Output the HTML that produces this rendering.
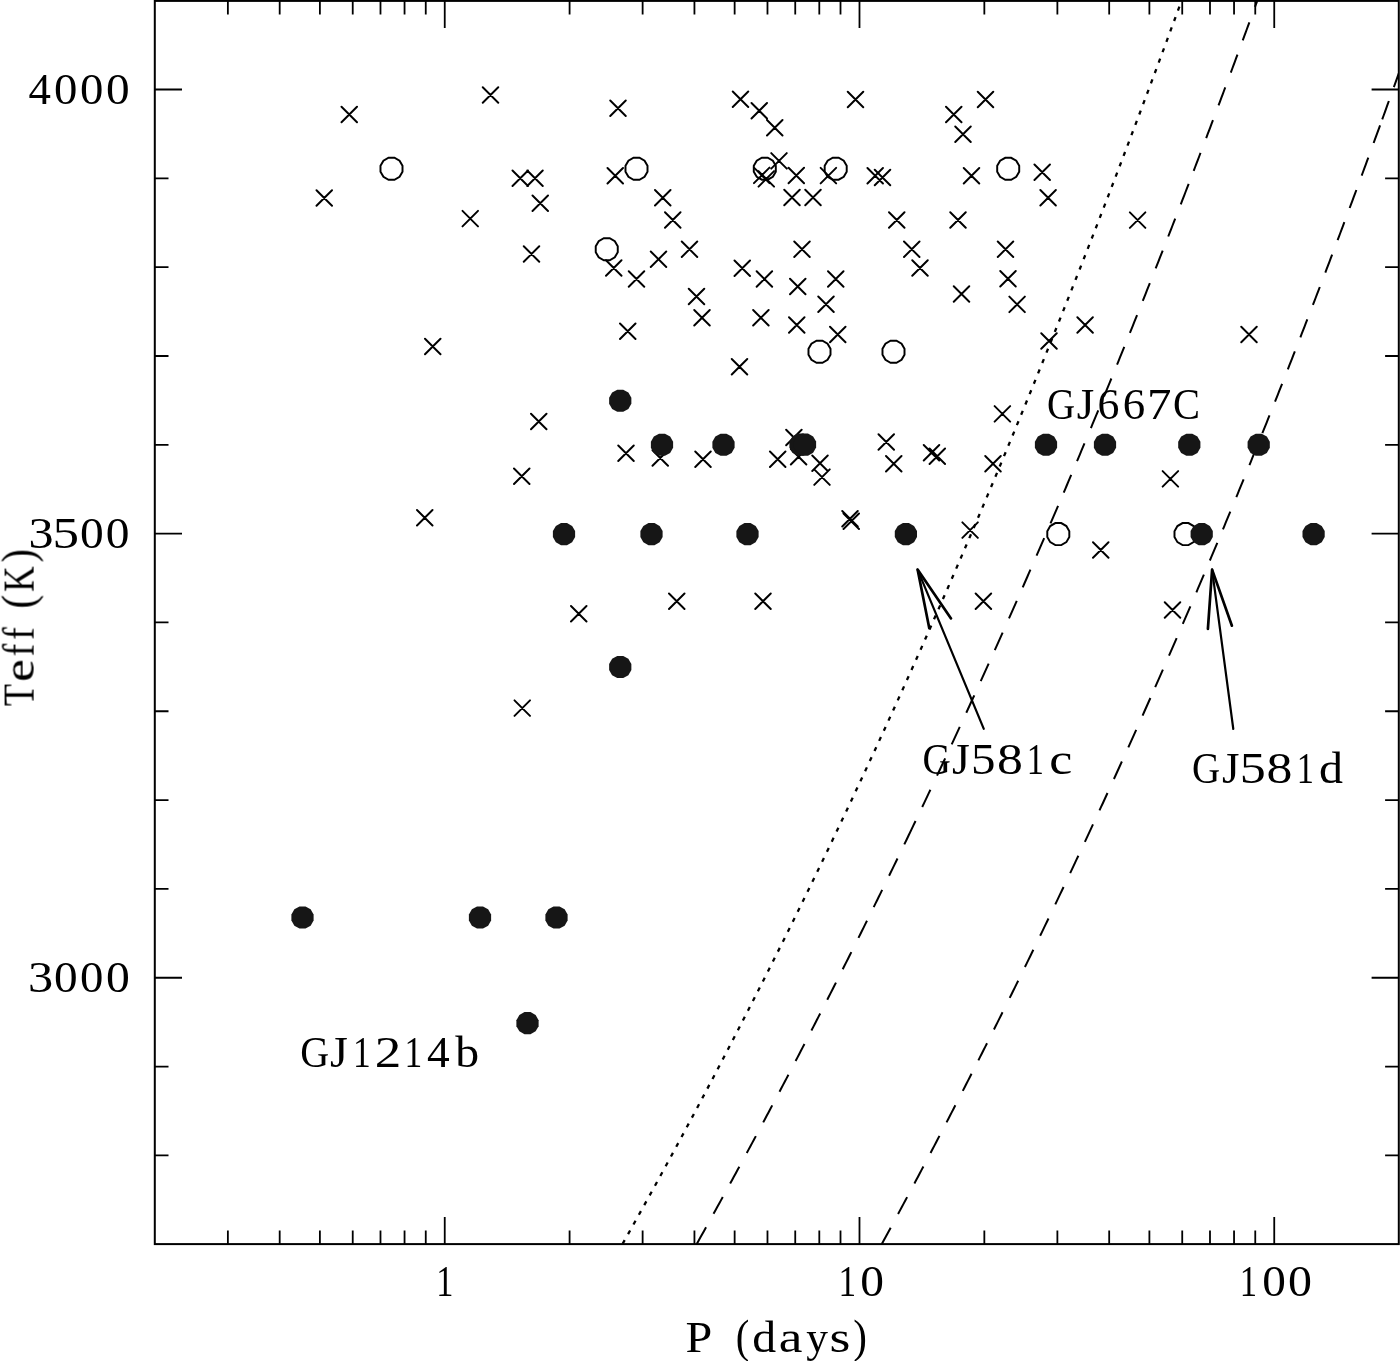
<!DOCTYPE html><html><head><meta charset="utf-8"><style>html,body{margin:0;padding:0;background:#fff;}svg{display:block;}</style></head><body>
<svg width="1400" height="1361" viewBox="0 0 1400 1361">
<rect x="0" y="0" width="1400" height="1361" fill="#fff"/>
<path d="M154.8 1155.40h13.7M1398.8 1155.40h-13.7M154.8 1066.57h13.7M1398.8 1066.57h-13.7M154.8 977.75h27.2M1398.8 977.75h-27.2M154.8 888.92h13.7M1398.8 888.92h-13.7M154.8 800.10h13.7M1398.8 800.10h-13.7M154.8 711.27h13.7M1398.8 711.27h-13.7M154.8 622.45h13.7M1398.8 622.45h-13.7M154.8 533.62h27.2M1398.8 533.62h-27.2M154.8 444.80h13.7M1398.8 444.80h-13.7M154.8 355.98h13.7M1398.8 355.98h-13.7M154.8 267.15h13.7M1398.8 267.15h-13.7M154.8 178.32h13.7M1398.8 178.32h-13.7M154.8 89.50h27.2M1398.8 89.50h-27.2M227.88 1244.1v-13.7M227.88 0.9v13.7M279.69 1244.1v-13.7M279.69 0.9v13.7M319.89 1244.1v-13.7M319.89 0.9v13.7M352.73 1244.1v-13.7M352.73 0.9v13.7M380.49 1244.1v-13.7M380.49 0.9v13.7M404.55 1244.1v-13.7M404.55 0.9v13.7M425.76 1244.1v-13.7M425.76 0.9v13.7M444.74 1244.1v-27.2M444.74 0.9v27.2M569.59 1244.1v-13.7M569.59 0.9v13.7M642.63 1244.1v-13.7M642.63 0.9v13.7M694.44 1244.1v-13.7M694.44 0.9v13.7M734.64 1244.1v-13.7M734.64 0.9v13.7M767.48 1244.1v-13.7M767.48 0.9v13.7M795.24 1244.1v-13.7M795.24 0.9v13.7M819.30 1244.1v-13.7M819.30 0.9v13.7M840.51 1244.1v-13.7M840.51 0.9v13.7M859.49 1244.1v-27.2M859.49 0.9v27.2M984.34 1244.1v-13.7M984.34 0.9v13.7M1057.38 1244.1v-13.7M1057.38 0.9v13.7M1109.19 1244.1v-13.7M1109.19 0.9v13.7M1149.39 1244.1v-13.7M1149.39 0.9v13.7M1182.23 1244.1v-13.7M1182.23 0.9v13.7M1209.99 1244.1v-13.7M1209.99 0.9v13.7M1234.05 1244.1v-13.7M1234.05 0.9v13.7M1255.26 1244.1v-13.7M1255.26 0.9v13.7M1274.24 1244.1v-27.2M1274.24 0.9v27.2" stroke="#000" stroke-width="1.8" fill="none"/>
<clipPath id="cp"><rect x="154.8" y="0.9" width="1244.0" height="1243.2"/></clipPath>
<g clip-path="url(#cp)" fill="none" stroke="#000">
<path d="M1179.38 6.63L1177.93 10.57M1175.55 17.05L1174.10 20.99M1171.71 27.46L1170.26 31.40M1167.86 37.87L1166.41 41.81M1164.01 48.28L1162.55 52.21M1160.15 58.68L1158.68 62.62M1156.28 69.08L1154.81 73.02M1152.41 79.45L1150.94 83.39M1148.53 89.82L1147.05 93.76M1144.64 100.19L1143.16 104.12M1140.74 110.55L1139.26 114.48M1136.84 120.91L1135.35 124.84M1132.92 131.27L1131.44 135.19M1129.00 141.62L1127.51 145.54M1125.07 151.97L1123.57 155.89M1121.12 162.31L1119.62 166.23M1117.17 172.65L1115.67 176.57M1113.21 182.99L1111.70 186.91M1109.24 193.32L1107.73 197.24M1105.25 203.65L1103.74 207.57M1101.26 213.98L1099.74 217.90M1097.26 224.30L1095.74 228.22M1093.25 234.62L1091.72 238.53M1089.22 244.93L1087.69 248.85M1085.19 255.24L1083.66 259.15M1081.12 265.61L1079.59 269.52M1077.03 276.02L1075.49 279.93M1072.92 286.42L1071.37 290.33M1068.80 296.82L1067.25 300.73M1064.67 307.22L1063.12 311.12M1060.53 317.61L1058.97 321.51M1056.38 327.99L1054.82 331.89M1052.22 338.37L1050.65 342.27M1048.04 348.75L1046.47 352.64M1043.86 359.12L1042.28 363.01M1039.66 369.49L1038.08 373.38M1035.45 379.85L1033.87 383.74M1031.23 390.21L1029.64 394.09M1027.00 400.56L1025.40 404.45M1022.75 410.91L1021.15 414.79M1018.49 421.25L1016.89 425.13M1014.22 431.59L1012.62 435.47M1009.94 441.92L1008.33 445.80M1005.65 452.24L1004.03 456.12M1001.34 462.57L999.72 466.44M997.02 472.88L995.39 476.75M992.69 483.19L991.06 487.06M988.34 493.50L986.71 497.37M984.00 503.75L982.36 507.62M979.68 513.94L978.03 517.80M975.34 524.12L973.69 527.98M970.99 534.29L969.33 538.16M966.62 544.46L964.97 548.32M962.25 554.63L960.58 558.49M957.86 564.79L956.19 568.64M953.46 574.94L951.78 578.79M949.04 585.09L947.36 588.94M944.61 595.23L942.92 599.08M940.17 605.37L938.48 609.21M935.71 615.50L934.01 619.34M931.24 625.62L929.54 629.46M926.76 635.74L925.05 639.58M922.26 645.85L920.55 649.69M917.75 655.96L916.03 659.79M913.21 666.08L911.49 669.91M908.64 676.24L906.92 680.07M904.06 686.39L902.33 690.22M899.46 696.54L897.72 700.36M894.85 706.68L893.11 710.50M890.22 716.81L888.48 720.63M885.58 726.94L883.83 730.76M880.93 737.06L879.17 740.87M876.26 747.17L874.50 750.98M871.58 757.28L869.81 761.09M866.88 767.38L865.10 771.19M862.16 777.47L860.38 781.28M857.44 787.56L855.65 791.36M852.69 797.64L850.90 801.43M847.93 807.71L846.14 811.50M843.16 817.77L841.36 821.56M838.38 827.82L836.57 831.61M833.58 837.87L831.76 841.65M828.76 847.90L826.94 851.69M823.93 857.93L822.10 861.72M819.08 867.96L817.25 871.74M814.22 877.97L812.38 881.75M809.35 887.98L807.50 891.75M804.45 897.98L802.60 901.75M799.54 907.97L797.69 911.74M794.62 917.96L792.76 921.72M789.68 927.94L787.81 931.70M784.73 937.91L782.85 941.67M779.76 947.87L777.88 951.63M774.77 957.82L772.89 961.58M769.77 967.77L767.88 971.52M764.75 977.71L762.85 981.45M759.78 987.52L757.87 991.27M754.80 997.30L752.89 1001.04M749.81 1007.06L747.90 1010.80M744.81 1016.82L742.89 1020.56M739.79 1026.57L737.86 1030.30M734.75 1036.31L732.82 1040.04M729.70 1046.05L727.76 1049.77M724.63 1055.77L722.69 1059.50M719.55 1065.49L717.60 1069.21M714.45 1075.20L712.50 1078.92M709.34 1084.90L707.37 1088.61M704.21 1094.59L702.24 1098.30M699.06 1104.28L697.09 1107.99M693.90 1113.96L691.92 1117.66M688.72 1123.62L686.73 1127.32M683.50 1133.34L681.51 1137.03M678.23 1143.09L676.23 1146.78M672.95 1152.83L670.95 1156.52M667.66 1162.56L665.65 1166.25M662.34 1172.29L660.33 1175.97M657.01 1182.00L654.99 1185.68M651.67 1191.71L649.64 1195.38M646.31 1201.40L644.27 1205.08M640.93 1211.09L638.88 1214.76M635.53 1220.77L633.48 1224.44M630.12 1230.44L628.06 1234.10M624.69 1240.10L622.63 1243.76" stroke-width="2.3"/>
<path d="M1257.21 0.90 L1256.77 2.10 L1256.33 3.30 L1255.89 4.50 L1255.46 5.70 L1255.02 6.90M1249.38 22.30 L1248.06 25.90 L1246.73 29.51 L1245.41 33.11 L1244.08 36.72 L1242.75 40.32M1237.47 54.60 L1236.14 58.20 L1234.80 61.80 L1233.47 65.40 L1232.13 69.00 L1230.79 72.60M1225.27 87.40 L1223.92 91.00 L1222.58 94.59 L1221.23 98.19 L1219.88 101.78 L1218.53 105.38M1212.98 120.10 L1211.62 123.69 L1210.27 127.28 L1208.91 130.87 L1207.54 134.46 L1206.18 138.06M1200.53 152.90 L1199.16 156.49 L1197.79 160.07 L1196.42 163.66 L1195.05 167.25 L1193.68 170.83M1188.69 183.80 L1187.11 187.90 L1185.53 192.00 L1183.95 196.10 L1182.36 200.20 L1180.78 204.30M1175.22 218.60 L1173.83 222.18 L1172.43 225.75 L1171.04 229.33 L1169.64 232.91 L1168.24 236.49M1162.71 250.60 L1161.30 254.17 L1159.89 257.74 L1158.48 261.32 L1157.07 264.89 L1155.66 268.46M1149.86 283.10 L1148.44 286.67 L1147.02 290.23 L1145.60 293.80 L1144.18 297.37 L1142.76 300.94M1137.08 315.10 L1135.65 318.66 L1134.22 322.22 L1132.79 325.79 L1131.35 329.35 L1129.91 332.91M1124.29 346.80 L1122.85 350.36 L1121.41 353.91 L1119.96 357.47 L1118.51 361.03 L1117.06 364.59M1111.37 378.50 L1109.92 382.05 L1108.46 385.60 L1107.00 389.16 L1105.54 392.71 L1104.07 396.26M1098.27 410.30 L1096.80 413.85 L1095.33 417.39 L1093.86 420.94 L1092.38 424.48 L1090.91 428.03M1084.49 443.40 L1083.00 446.94 L1081.52 450.48 L1080.03 454.02 L1078.54 457.56 L1077.05 461.10M1071.23 474.90 L1069.73 478.43 L1068.23 481.97 L1066.73 485.50 L1065.23 489.04 L1063.72 492.57M1058.08 505.80 L1056.57 509.33 L1055.06 512.86 L1053.54 516.39 L1052.03 519.92 L1050.51 523.44M1044.19 538.10 L1042.66 541.62 L1041.13 545.15 L1039.61 548.67 L1038.08 552.19 L1036.54 555.71M1030.44 569.70 L1028.90 573.22 L1027.36 576.73 L1025.82 580.25 L1024.28 583.77 L1022.73 587.28M1016.77 600.80 L1015.22 604.31 L1013.66 607.82 L1012.11 611.33 L1010.55 614.84 L1008.99 618.35M1002.64 632.60 L1001.07 636.10 L999.50 639.61 L997.93 643.11 L996.35 646.62 L994.78 650.12M988.66 663.70 L987.08 667.20 L985.49 670.69 L983.91 674.19 L982.32 677.69 L980.73 681.19M974.30 695.30 L972.70 698.79 L971.10 702.28 L969.50 705.77 L967.90 709.26 L966.30 712.75M959.77 726.90 L958.16 730.38 L956.55 733.87 L954.93 737.35 L953.32 740.84 L951.70 744.32M945.18 758.30 L943.55 761.78 L941.93 765.25 L940.30 768.73 L938.66 772.21 L937.03 775.68M930.42 789.70 L928.78 793.17 L927.14 796.64 L925.49 800.11 L923.84 803.58 L922.19 807.05M915.54 821.00 L913.30 825.68 L911.06 830.36 L908.81 835.04 L906.56 839.72 L904.30 844.40M897.49 858.50 L895.81 861.95 L894.14 865.41 L892.46 868.86 L890.78 872.31 L889.09 875.77M882.18 889.90 L880.49 893.35 L878.80 896.79 L877.11 900.24 L875.41 903.68 L873.71 907.13M867.00 920.70 L865.29 924.14 L863.59 927.58 L861.88 931.01 L860.16 934.45 L858.45 937.89M851.34 952.10 L849.62 955.53 L847.90 958.96 L846.17 962.39 L844.44 965.82 L842.71 969.25M835.96 982.60 L834.22 986.02 L832.48 989.44 L830.74 992.87 L829.00 996.29 L827.25 999.71M820.20 1013.50 L818.44 1016.91 L816.69 1020.33 L814.93 1023.74 L813.17 1027.16 L811.41 1030.57M804.46 1044.00 L802.69 1047.41 L800.92 1050.81 L799.15 1054.22 L797.37 1057.63 L795.60 1061.03M788.44 1074.70 L786.66 1078.10 L784.87 1081.50 L783.08 1084.89 L781.29 1088.29 L779.50 1091.69M772.24 1105.40 L770.44 1108.79 L768.64 1112.18 L766.83 1115.57 L765.03 1118.96 L763.22 1122.35M755.85 1136.10 L754.04 1139.48 L752.22 1142.86 L750.40 1146.24 L748.57 1149.62 L746.75 1153.00M739.33 1166.70 L737.50 1170.07 L735.66 1173.44 L733.82 1176.82 L731.99 1180.19 L730.14 1183.56M722.78 1197.00 L720.93 1200.36 L719.08 1203.73 L717.23 1207.09 L715.37 1210.45 L713.52 1213.82M706.05 1227.30 L704.18 1230.65 L702.31 1234.01 L700.45 1237.36 L698.57 1240.72 L696.70 1244.07" stroke-width="2"/>
<path d="M1398.79 73.30 L1397.80 76.06 L1396.82 78.82 L1395.83 81.58 L1394.84 84.34 L1393.86 87.10M1388.86 101.00 L1387.54 104.68 L1386.21 108.36 L1384.88 112.04 L1383.55 115.72 L1382.22 119.40M1380.08 125.30 L1378.80 128.84 L1377.51 132.38 L1376.22 135.92 L1374.93 139.46 L1373.64 143.00M1368.30 157.60 L1366.98 161.20 L1365.65 164.81 L1364.33 168.41 L1363.00 172.02 L1361.67 175.62M1356.35 190.00 L1355.02 193.60 L1353.68 197.20 L1352.34 200.80 L1351.00 204.40 L1349.66 208.00M1344.35 222.20 L1343.00 225.79 L1341.66 229.39 L1340.30 232.98 L1338.95 236.58 L1337.60 240.17M1332.14 254.60 L1330.78 258.19 L1329.42 261.78 L1328.06 265.37 L1326.69 268.96 L1325.32 272.55M1319.80 287.00 L1318.43 290.58 L1317.05 294.17 L1315.68 297.75 L1314.30 301.34 L1312.92 304.92M1307.32 319.40 L1305.93 322.98 L1304.55 326.56 L1303.15 330.14 L1301.76 333.72 L1300.37 337.30M1294.86 351.40 L1293.46 354.97 L1292.05 358.55 L1290.65 362.12 L1289.24 365.70 L1287.84 369.27M1282.10 383.80 L1280.68 387.37 L1279.26 390.94 L1277.85 394.51 L1276.43 398.07 L1275.01 401.64M1269.51 415.40 L1268.08 418.96 L1266.65 422.53 L1265.22 426.09 L1263.78 429.65 L1262.35 433.22M1256.66 447.30 L1255.22 450.86 L1253.77 454.41 L1252.33 457.97 L1250.88 461.53 L1249.43 465.09M1243.62 479.30 L1242.17 482.85 L1240.71 486.40 L1239.25 489.96 L1237.79 493.51 L1236.32 497.06M1230.31 511.60 L1228.84 515.15 L1227.37 518.69 L1225.89 522.24 L1224.42 525.78 L1222.94 529.33M1217.31 542.80 L1215.82 546.34 L1214.33 549.88 L1212.85 553.42 L1211.36 556.96 L1209.86 560.50M1203.90 574.60 L1202.40 578.13 L1200.90 581.67 L1199.40 585.20 L1197.89 588.73 L1196.38 592.27M1190.38 606.30 L1188.87 609.83 L1187.35 613.35 L1185.83 616.88 L1184.31 620.41 L1182.79 623.94M1176.66 638.10 L1175.13 641.62 L1173.60 645.14 L1172.07 648.66 L1170.54 652.18 L1169.00 655.70M1162.92 669.60 L1161.37 673.11 L1159.83 676.63 L1158.28 680.14 L1156.73 683.66 L1155.18 687.17M1150.39 698.00 L1148.83 701.51 L1147.27 705.02 L1145.71 708.53 L1144.15 712.03 L1142.58 715.54M1136.20 729.80 L1134.63 733.30 L1133.05 736.80 L1131.48 740.30 L1129.90 743.81 L1128.32 747.31M1121.89 761.50 L1120.30 764.99 L1118.71 768.49 L1117.12 771.98 L1115.53 775.48 L1113.93 778.97M1107.50 793.00 L1105.90 796.49 L1104.30 799.97 L1102.69 803.46 L1101.08 806.95 L1099.47 810.44M1093.00 824.40 L1091.38 827.88 L1089.76 831.36 L1088.14 834.84 L1086.51 838.32 L1084.88 841.80M1078.37 855.70 L1076.73 859.17 L1075.10 862.65 L1073.46 866.12 L1071.82 869.59 L1070.17 873.07M1063.56 887.00 L1061.91 890.47 L1060.26 893.93 L1058.61 897.40 L1056.95 900.86 L1055.29 904.33M1048.49 918.50 L1046.82 921.96 L1045.16 925.42 L1043.49 928.87 L1041.82 932.33 L1040.14 935.79M1033.34 949.80 L1031.65 953.25 L1029.97 956.70 L1028.29 960.15 L1026.60 963.60 L1024.91 967.05M1018.20 980.70 L1016.50 984.14 L1014.80 987.58 L1013.10 991.03 L1011.40 994.47 L1009.69 997.91M1002.54 1012.30 L1000.83 1015.73 L999.11 1019.17 L997.39 1022.60 L995.67 1026.04 L993.95 1029.47M987.04 1043.20 L985.32 1046.63 L983.58 1050.05 L981.85 1053.48 L980.11 1056.91 L978.38 1060.33M971.52 1073.80 L969.78 1077.22 L968.03 1080.64 L966.28 1084.05 L964.53 1087.47 L962.77 1090.89M955.35 1105.30 L953.59 1108.71 L951.83 1112.12 L950.06 1115.53 L948.30 1118.94 L946.52 1122.35M939.47 1135.90 L937.69 1139.30 L935.91 1142.70 L934.13 1146.10 L932.34 1149.51 L930.55 1152.91M923.39 1166.50 L921.60 1169.89 L919.80 1173.29 L918.00 1176.68 L916.20 1180.07 L914.40 1183.46M907.13 1197.10 L905.32 1200.48 L903.51 1203.87 L901.69 1207.25 L899.88 1210.64 L898.06 1214.02M890.68 1227.70 L888.91 1230.98 L887.13 1234.26 L885.35 1237.54 L883.57 1240.82 L881.79 1244.10" stroke-width="2"/>
</g>
<path d="M341.50 106.75l15.5 15.5M341.50 122.25l15.5 -15.5M316.50 190.25l15.5 15.5M316.50 205.75l15.5 -15.5M462.50 210.85l15.5 15.5M462.50 226.35l15.5 -15.5M425.00 338.75l15.5 15.5M425.00 354.25l15.5 -15.5M482.75 87.25l15.5 15.5M482.75 102.75l15.5 -15.5M610.25 100.50l15.5 15.5M610.25 116.00l15.5 -15.5M732.75 91.50l15.5 15.5M732.75 107.00l15.5 -15.5M751.50 103.00l15.5 15.5M751.50 118.50l15.5 -15.5M767.00 120.00l15.5 15.5M767.00 135.50l15.5 -15.5M512.50 170.50l15.5 15.5M512.50 186.00l15.5 -15.5M527.25 170.50l15.5 15.5M527.25 186.00l15.5 -15.5M607.50 168.00l15.5 15.5M607.50 183.50l15.5 -15.5M771.25 153.15l15.5 15.5M771.25 168.65l15.5 -15.5M753.95 167.65l15.5 15.5M753.95 183.15l15.5 -15.5M758.55 171.15l15.5 15.5M758.55 186.65l15.5 -15.5M788.55 167.75l15.5 15.5M788.55 183.25l15.5 -15.5M532.50 195.50l15.5 15.5M532.50 211.00l15.5 -15.5M655.00 190.00l15.5 15.5M655.00 205.50l15.5 -15.5M665.00 212.25l15.5 15.5M665.00 227.75l15.5 -15.5M523.75 246.25l15.5 15.5M523.75 261.75l15.5 -15.5M606.00 260.25l15.5 15.5M606.00 275.75l15.5 -15.5M628.75 271.25l15.5 15.5M628.75 286.75l15.5 -15.5M650.75 251.50l15.5 15.5M650.75 267.00l15.5 -15.5M681.75 241.50l15.5 15.5M681.75 257.00l15.5 -15.5M734.50 260.50l15.5 15.5M734.50 276.00l15.5 -15.5M756.65 271.25l15.5 15.5M756.65 286.75l15.5 -15.5M688.75 288.75l15.5 15.5M688.75 304.25l15.5 -15.5M694.25 310.00l15.5 15.5M694.25 325.50l15.5 -15.5M753.15 310.00l15.5 15.5M753.15 325.50l15.5 -15.5M620.00 323.50l15.5 15.5M620.00 339.00l15.5 -15.5M731.75 359.00l15.5 15.5M731.75 374.50l15.5 -15.5M847.75 91.75l15.5 15.5M847.75 107.25l15.5 -15.5M946.00 106.75l15.5 15.5M946.00 122.25l15.5 -15.5M977.75 91.75l15.5 15.5M977.75 107.25l15.5 -15.5M955.25 126.50l15.5 15.5M955.25 142.00l15.5 -15.5M820.65 167.85l15.5 15.5M820.65 183.35l15.5 -15.5M867.45 168.05l15.5 15.5M867.45 183.55l15.5 -15.5M874.75 169.75l15.5 15.5M874.75 185.25l15.5 -15.5M963.75 168.00l15.5 15.5M963.75 183.50l15.5 -15.5M1034.45 164.55l15.5 15.5M1034.45 180.05l15.5 -15.5M784.25 189.75l15.5 15.5M784.25 205.25l15.5 -15.5M805.25 189.75l15.5 15.5M805.25 205.25l15.5 -15.5M1040.35 190.05l15.5 15.5M1040.35 205.55l15.5 -15.5M889.00 212.25l15.5 15.5M889.00 227.75l15.5 -15.5M950.25 212.25l15.5 15.5M950.25 227.75l15.5 -15.5M794.25 241.50l15.5 15.5M794.25 257.00l15.5 -15.5M904.00 241.50l15.5 15.5M904.00 257.00l15.5 -15.5M997.75 241.55l15.5 15.5M997.75 257.05l15.5 -15.5M790.00 278.75l15.5 15.5M790.00 294.25l15.5 -15.5M828.00 271.25l15.5 15.5M828.00 286.75l15.5 -15.5M912.25 260.25l15.5 15.5M912.25 275.75l15.5 -15.5M1000.25 271.05l15.5 15.5M1000.25 286.55l15.5 -15.5M953.75 286.25l15.5 15.5M953.75 301.75l15.5 -15.5M818.25 296.50l15.5 15.5M818.25 312.00l15.5 -15.5M1009.35 296.65l15.5 15.5M1009.35 312.15l15.5 -15.5M789.00 317.25l15.5 15.5M789.00 332.75l15.5 -15.5M830.00 326.75l15.5 15.5M830.00 342.25l15.5 -15.5M1077.35 317.25l15.5 15.5M1077.35 332.75l15.5 -15.5M1041.25 333.25l15.5 15.5M1041.25 348.75l15.5 -15.5M1129.85 212.35l15.5 15.5M1129.85 227.85l15.5 -15.5M1241.25 326.75l15.5 15.5M1241.25 342.25l15.5 -15.5M417.00 510.00l15.5 15.5M417.00 525.50l15.5 -15.5M531.00 413.75l15.5 15.5M531.00 429.25l15.5 -15.5M618.25 445.50l15.5 15.5M618.25 461.00l15.5 -15.5M652.50 450.25l15.5 15.5M652.50 465.75l15.5 -15.5M695.25 451.50l15.5 15.5M695.25 467.00l15.5 -15.5M769.95 451.55l15.5 15.5M769.95 467.05l15.5 -15.5M514.00 468.50l15.5 15.5M514.00 484.00l15.5 -15.5M571.00 606.00l15.5 15.5M571.00 621.50l15.5 -15.5M669.00 593.50l15.5 15.5M669.00 609.00l15.5 -15.5M755.25 593.50l15.5 15.5M755.25 609.00l15.5 -15.5M514.50 700.35l15.5 15.5M514.50 715.85l15.5 -15.5M786.15 429.75l15.5 15.5M786.15 445.25l15.5 -15.5M790.85 449.05l15.5 15.5M790.85 464.55l15.5 -15.5M812.25 455.45l15.5 15.5M812.25 470.95l15.5 -15.5M814.25 469.35l15.5 15.5M814.25 484.85l15.5 -15.5M878.50 434.25l15.5 15.5M878.50 449.75l15.5 -15.5M886.00 456.00l15.5 15.5M886.00 471.50l15.5 -15.5M923.75 444.95l15.5 15.5M923.75 460.45l15.5 -15.5M929.55 448.45l15.5 15.5M929.55 463.95l15.5 -15.5M994.65 406.15l15.5 15.5M994.65 421.65l15.5 -15.5M985.25 455.95l15.5 15.5M985.25 471.45l15.5 -15.5M842.25 511.00l15.5 15.5M842.25 526.50l15.5 -15.5M843.50 513.50l15.5 15.5M843.50 529.00l15.5 -15.5M962.35 522.35l15.5 15.5M962.35 537.85l15.5 -15.5M1093.00 542.25l15.5 15.5M1093.00 557.75l15.5 -15.5M975.65 593.55l15.5 15.5M975.65 609.05l15.5 -15.5M1162.65 471.10l15.5 15.5M1162.65 486.60l15.5 -15.5M1164.75 602.25l15.5 15.5M1164.75 617.75l15.5 -15.5" stroke="#000" stroke-width="1.95" stroke-linecap="round" fill="none"/>
<polygon points="402.51,171.70 399.56,176.81 394.45,179.76 388.55,179.76 383.44,176.81 380.49,171.70 380.49,165.80 383.44,160.69 388.55,157.74 394.45,157.74 399.56,160.69 402.51,165.80" stroke="#000" stroke-width="1.95" fill="none"/>
<polygon points="647.51,171.70 644.56,176.81 639.45,179.76 633.55,179.76 628.44,176.81 625.49,171.70 625.49,165.80 628.44,160.69 633.55,157.74 639.45,157.74 644.56,160.69 647.51,165.80" stroke="#000" stroke-width="1.95" fill="none"/>
<polygon points="617.76,252.20 614.81,257.31 609.70,260.26 603.80,260.26 598.69,257.31 595.74,252.20 595.74,246.30 598.69,241.19 603.80,238.24 609.70,238.24 614.81,241.19 617.76,246.30" stroke="#000" stroke-width="1.95" fill="none"/>
<polygon points="775.81,171.65 772.86,176.76 767.75,179.71 761.85,179.71 756.74,176.76 753.79,171.65 753.79,165.75 756.74,160.64 761.85,157.69 767.75,157.69 772.86,160.64 775.81,165.75" stroke="#000" stroke-width="1.95" fill="none"/>
<polygon points="846.71,171.65 843.76,176.76 838.65,179.71 832.75,179.71 827.64,176.76 824.69,171.65 824.69,165.75 827.64,160.64 832.75,157.69 838.65,157.69 843.76,160.64 846.71,165.75" stroke="#000" stroke-width="1.95" fill="none"/>
<polygon points="1019.21,171.75 1016.26,176.86 1011.15,179.81 1005.25,179.81 1000.14,176.86 997.19,171.75 997.19,165.85 1000.14,160.74 1005.25,157.79 1011.15,157.79 1016.26,160.74 1019.21,165.85" stroke="#000" stroke-width="1.95" fill="none"/>
<polygon points="830.51,354.70 827.56,359.81 822.45,362.76 816.55,362.76 811.44,359.81 808.49,354.70 808.49,348.80 811.44,343.69 816.55,340.74 822.45,340.74 827.56,343.69 830.51,348.80" stroke="#000" stroke-width="1.95" fill="none"/>
<polygon points="904.51,354.70 901.56,359.81 896.45,362.76 890.55,362.76 885.44,359.81 882.49,354.70 882.49,348.80 885.44,343.69 890.55,340.74 896.45,340.74 901.56,343.69 904.51,348.80" stroke="#000" stroke-width="1.95" fill="none"/>
<polygon points="1069.31,537.05 1066.36,542.16 1061.25,545.11 1055.35,545.11 1050.24,542.16 1047.29,537.05 1047.29,531.15 1050.24,526.04 1055.35,523.09 1061.25,523.09 1066.36,526.04 1069.31,531.15" stroke="#000" stroke-width="1.95" fill="none"/>
<polygon points="1196.51,537.05 1193.56,542.16 1188.45,545.11 1182.55,545.11 1177.44,542.16 1174.49,537.05 1174.49,531.15 1177.44,526.04 1182.55,523.09 1188.45,523.09 1193.56,526.04 1196.51,531.15" stroke="#000" stroke-width="1.95" fill="none"/>
<polygon points="631.36,403.73 628.38,408.88 623.23,411.86 617.27,411.86 612.12,408.88 609.14,403.73 609.14,397.77 612.12,392.62 617.27,389.64 623.23,389.64 628.38,392.62 631.36,397.77" fill="#161616"/>
<polygon points="673.11,447.73 670.13,452.88 664.98,455.86 659.02,455.86 653.87,452.88 650.89,447.73 650.89,441.77 653.87,436.62 659.02,433.64 664.98,433.64 670.13,436.62 673.11,441.77" fill="#161616"/>
<polygon points="734.61,447.73 731.63,452.88 726.48,455.86 720.52,455.86 715.37,452.88 712.39,447.73 712.39,441.77 715.37,436.62 720.52,433.64 726.48,433.64 731.63,436.62 734.61,441.77" fill="#161616"/>
<polygon points="811.61,447.58 808.63,452.73 803.48,455.71 797.52,455.71 792.37,452.73 789.39,447.58 789.39,441.62 792.37,436.47 797.52,433.49 803.48,433.49 808.63,436.47 811.61,441.62" fill="#161616"/>
<polygon points="816.11,447.58 813.13,452.73 807.98,455.71 802.02,455.71 796.87,452.73 793.89,447.58 793.89,441.62 796.87,436.47 802.02,433.49 807.98,433.49 813.13,436.47 816.11,441.62" fill="#161616"/>
<polygon points="575.11,537.08 572.13,542.23 566.98,545.21 561.02,545.21 555.87,542.23 552.89,537.08 552.89,531.12 555.87,525.97 561.02,522.99 566.98,522.99 572.13,525.97 575.11,531.12" fill="#161616"/>
<polygon points="662.61,537.08 659.63,542.23 654.48,545.21 648.52,545.21 643.37,542.23 640.39,537.08 640.39,531.12 643.37,525.97 648.52,522.99 654.48,522.99 659.63,525.97 662.61,531.12" fill="#161616"/>
<polygon points="758.61,537.08 755.63,542.23 750.48,545.21 744.52,545.21 739.37,542.23 736.39,537.08 736.39,531.12 739.37,525.97 744.52,522.99 750.48,522.99 755.63,525.97 758.61,531.12" fill="#161616"/>
<polygon points="631.36,669.98 628.38,675.13 623.23,678.11 617.27,678.11 612.12,675.13 609.14,669.98 609.14,664.02 612.12,658.87 617.27,655.89 623.23,655.89 628.38,658.87 631.36,664.02" fill="#161616"/>
<polygon points="917.01,537.08 914.03,542.23 908.88,545.21 902.92,545.21 897.77,542.23 894.79,537.08 894.79,531.12 897.77,525.97 902.92,522.99 908.88,522.99 914.03,525.97 917.01,531.12" fill="#161616"/>
<polygon points="1057.11,447.73 1054.13,452.88 1048.98,455.86 1043.02,455.86 1037.87,452.88 1034.89,447.73 1034.89,441.77 1037.87,436.62 1043.02,433.64 1048.98,433.64 1054.13,436.62 1057.11,441.77" fill="#161616"/>
<polygon points="1116.11,447.73 1113.13,452.88 1107.98,455.86 1102.02,455.86 1096.87,452.88 1093.89,447.73 1093.89,441.77 1096.87,436.62 1102.02,433.64 1107.98,433.64 1113.13,436.62 1116.11,441.77" fill="#161616"/>
<polygon points="1200.41,447.73 1197.43,452.88 1192.28,455.86 1186.32,455.86 1181.17,452.88 1178.19,447.73 1178.19,441.77 1181.17,436.62 1186.32,433.64 1192.28,433.64 1197.43,436.62 1200.41,441.77" fill="#161616"/>
<polygon points="1269.81,447.73 1266.83,452.88 1261.68,455.86 1255.72,455.86 1250.57,452.88 1247.59,447.73 1247.59,441.77 1250.57,436.62 1255.72,433.64 1261.68,433.64 1266.83,436.62 1269.81,441.77" fill="#161616"/>
<polygon points="1212.81,537.08 1209.83,542.23 1204.68,545.21 1198.72,545.21 1193.57,542.23 1190.59,537.08 1190.59,531.12 1193.57,525.97 1198.72,522.99 1204.68,522.99 1209.83,525.97 1212.81,531.12" fill="#161616"/>
<polygon points="1324.71,537.08 1321.73,542.23 1316.58,545.21 1310.62,545.21 1305.47,542.23 1302.49,537.08 1302.49,531.12 1305.47,525.97 1310.62,522.99 1316.58,522.99 1321.73,525.97 1324.71,531.12" fill="#161616"/>
<polygon points="313.61,920.48 310.63,925.63 305.48,928.61 299.52,928.61 294.37,925.63 291.39,920.48 291.39,914.52 294.37,909.37 299.52,906.39 305.48,906.39 310.63,909.37 313.61,914.52" fill="#161616"/>
<polygon points="491.11,920.48 488.13,925.63 482.98,928.61 477.02,928.61 471.87,925.63 468.89,920.48 468.89,914.52 471.87,909.37 477.02,906.39 482.98,906.39 488.13,909.37 491.11,914.52" fill="#161616"/>
<polygon points="567.61,920.48 564.63,925.63 559.48,928.61 553.52,928.61 548.37,925.63 545.39,920.48 545.39,914.52 548.37,909.37 553.52,906.39 559.48,906.39 564.63,909.37 567.61,914.52" fill="#161616"/>
<polygon points="538.61,1026.18 535.63,1031.33 530.48,1034.31 524.52,1034.31 519.37,1031.33 516.39,1026.18 516.39,1020.22 519.37,1015.07 524.52,1012.09 530.48,1012.09 535.63,1015.07 538.61,1020.22" fill="#161616"/>
<path d="M929.3 628.2L917.6 569.6L951 618.4" stroke="#000" stroke-width="2.7" fill="none" stroke-linejoin="round" stroke-linecap="round"/>
<path d="M917.6 569.6L983.8 728.8" stroke="#000" stroke-width="2.2" fill="none" stroke-linecap="round"/>
<path d="M1207.9 628.9L1212.1 569.6L1231.9 625.7" stroke="#000" stroke-width="2.7" fill="none" stroke-linejoin="round" stroke-linecap="round"/>
<path d="M1212.1 569.6L1233.3 729" stroke="#000" stroke-width="2.2" fill="none" stroke-linecap="round"/>
<rect x="154.8" y="0.9" width="1244.0" height="1243.1999999999998" stroke="#000" stroke-width="2.0" fill="none"/>
<g font-family="Liberation Serif" font-size="44" fill="#000" style="will-change:transform">
<text transform="translate(40.20 104.0) scale(1.019 1.0)" x="-11.5">4</text>
<text transform="translate(66.30 104.0) scale(1.063 1.0)" x="-11.5">0</text>
<text transform="translate(92.30 104.0) scale(1.063 1.0)" x="-11.5">0</text>
<text transform="translate(118.30 104.0) scale(1.074 1.0)" x="-11.5">0</text>
<text transform="translate(40.90 548.0) scale(1.139 1.0)" x="-11.0">3</text>
<text transform="translate(66.40 548.0) scale(1.206 1.0)" x="-11.5">5</text>
<text transform="translate(92.40 548.0) scale(1.079 1.0)" x="-11.5">0</text>
<text transform="translate(118.10 548.0) scale(1.079 1.0)" x="-11.5">0</text>
<text transform="translate(40.60 992.3) scale(1.144 1.0)" x="-11.0">3</text>
<text transform="translate(66.30 992.3) scale(1.074 1.0)" x="-11.5">0</text>
<text transform="translate(92.20 992.3) scale(1.063 1.0)" x="-11.5">0</text>
<text transform="translate(118.40 992.3) scale(1.084 1.0)" x="-11.5">0</text>
<text transform="translate(445.70 1296.0) scale(0.780 1.0)" x="-12.0">1</text>
<text transform="translate(848.20 1296.0) scale(0.800 1.0)" x="-12.0">1</text>
<text transform="translate(872.60 1296.0) scale(1.079 1.0)" x="-11.5">0</text>
<text transform="translate(1249.10 1296.0) scale(0.787 1.0)" x="-12.0">1</text>
<text transform="translate(1274.60 1296.0) scale(1.074 1.0)" x="-11.5">0</text>
<text transform="translate(1300.60 1296.0) scale(1.089 1.0)" x="-11.5">0</text>
<text transform="translate(698.50 1351.6) scale(1.091 1.0)" x="-12.0">P</text>
<text transform="translate(742.80 1351.6) scale(0.927 1.075)" x="-7.5">(</text>
<text transform="translate(765.20 1351.6) scale(1.085 1.0)" x="-12.0">d</text>
<text transform="translate(791.40 1351.6) scale(1.212 1.0)" x="-10.5">a</text>
<text transform="translate(817.00 1351.6) scale(0.986 1.0)" x="-11.0">y</text>
<text transform="translate(840.40 1351.6) scale(1.220 1.0)" x="-9.0">s</text>
<text transform="translate(859.70 1351.6) scale(0.933 1.075)" x="-7.0">)</text>
<text transform="translate(1061.20 418.6) scale(0.886 1.0)" x="-16.0">G</text>
<text transform="translate(1085.40 418.6) scale(1.020 1.0)" x="-8.5">J</text>
<text transform="translate(1108.90 418.6) scale(0.995 1.0)" x="-11.5">6</text>
<text transform="translate(1134.60 418.6) scale(1.021 1.0)" x="-11.5">6</text>
<text transform="translate(1160.20 418.6) scale(1.111 1.0)" x="-12.0">7</text>
<text transform="translate(1186.40 418.6) scale(0.920 1.0)" x="-14.5">C</text>
<text transform="translate(936.70 773.8) scale(0.893 1.0)" x="-16.0">G</text>
<text transform="translate(960.80 773.8) scale(1.040 1.0)" x="-8.5">J</text>
<text transform="translate(983.90 773.8) scale(1.112 1.0)" x="-11.5">5</text>
<text transform="translate(1009.90 773.8) scale(1.178 1.0)" x="-11.0">8</text>
<text transform="translate(1036.10 773.8) scale(0.780 1.0)" x="-12.0">1</text>
<text transform="translate(1061.10 773.8) scale(1.181 1.0)" x="-10.0">c</text>
<text transform="translate(1206.20 783.0) scale(0.886 1.0)" x="-16.0">G</text>
<text transform="translate(1230.70 783.0) scale(1.020 1.0)" x="-8.5">J</text>
<text transform="translate(1253.30 783.0) scale(1.182 1.0)" x="-11.5">5</text>
<text transform="translate(1279.50 783.0) scale(1.178 1.0)" x="-11.0">8</text>
<text transform="translate(1306.10 783.0) scale(0.780 1.0)" x="-12.0">1</text>
<text transform="translate(1332.00 783.0) scale(1.090 1.0)" x="-12.0">d</text>
<text transform="translate(314.90 1067.3) scale(0.911 1.0)" x="-16.0">G</text>
<text transform="translate(338.80 1067.3) scale(1.040 1.0)" x="-8.5">J</text>
<text transform="translate(362.60 1067.3) scale(0.806 1.0)" x="-12.0">1</text>
<text transform="translate(388.00 1067.3) scale(1.206 1.0)" x="-11.0">2</text>
<text transform="translate(414.10 1067.3) scale(0.806 1.0)" x="-12.0">1</text>
<text transform="translate(438.90 1067.3) scale(1.033 1.0)" x="-11.5">4</text>
<text transform="translate(466.10 1067.3) scale(1.085 1.0)" x="-10.0">b</text>
<g transform="translate(33.6 705.6) rotate(-90)">
<text transform="translate(10.70 0) scale(0.824 1.0)" x="-13.5">T</text>
<text transform="translate(35.30 0) scale(1.163 1.0)" x="-10.0">e</text>
<text transform="translate(56.00 0) scale(0.857 1.0)" x="-8.0">f</text>
<text transform="translate(72.60 0) scale(0.857 1.0)" x="-8.0">f</text>
<text transform="translate(103.90 0) scale(0.936 1.075)" x="-7.5">(</text>
<text transform="translate(127.00 0) scale(0.803 1.0)" x="-16.5">K</text>
<text transform="translate(149.70 0) scale(0.908 1.075)" x="-7.0">)</text>
</g></g>
</svg></body></html>
